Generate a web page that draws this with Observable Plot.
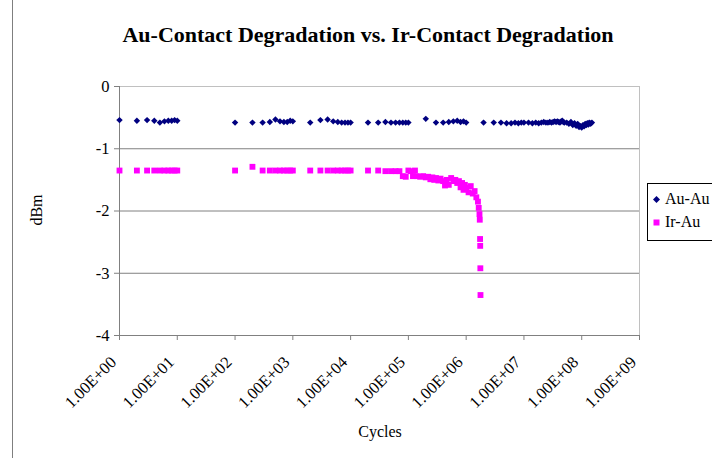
<!DOCTYPE html>
<html>
<head>
<meta charset="utf-8">
<script src="https://cdn.jsdelivr.net/npm/d3@7"></script>
<script src="https://cdn.jsdelivr.net/npm/@observablehq/plot@0.6"></script>
<style>
  html, body { margin: 0; padding: 0; background: #fff; }
  #wrap { position: relative; width: 712px; height: 458px; overflow: hidden; background: #fff;
          font-family: "Liberation Serif", "Times New Roman", serif; color: #000; }
  #wrap > svg { position: absolute; left: 0; top: 0; }
  .abs { position: absolute; white-space: nowrap; }
  #title { left: 0; width: 736px; top: 22px; text-align: center; font-weight: bold; font-size: 22px; }
  #xlab { left: 280px; width: 200px; top: 423px; text-align: center; font-size: 16px; }
  #ylab { left: 37px; top: 210px; font-size: 16px; transform: translate(-50%, -50%) rotate(-90deg); }
  #frameline { left: 12px; top: 0; width: 1px; height: 458px; background: #7f7f7f; }
  #legend { left: 647px; top: 183px; width: 90px; height: 56px; border: 1px solid #000; font-size: 16px; background: #fff; }
  #legend .item { position: absolute; left: 5px; display: flex; align-items: center; }
  #legend .item svg { position: static; margin-right: 5px; }
</style>
</head>
<body>
<div id="wrap">
  <div class="abs" id="frameline"></div>
  <div class="abs" id="title">Au-Contact Degradation vs. Ir-Contact Degradation</div>
  <div class="abs" id="xlab">Cycles</div>
  <div class="abs" id="ylab">dBm</div>
  <div class="abs" id="legend"></div>
</div>
<script>
// ---- data ----
const seriesNames = ["Au-Au", "Ir-Au"];
const seriesColors = ["#000080", "#FF00FF"];

const auCycles = [
  1, 2, 3, 4, 5, 6, 7, 8, 9, 10,
  100, 200, 300, 400, 500, 600, 700, 800, 900, 1000,
  2000, 3000, 4000, 5000, 6000, 7000, 8000, 9000, 10000,
  20000, 30000, 40000, 50000, 60000, 70000, 80000, 90000, 100000,
  200000, 300000, 400000, 500000, 600000, 700000, 800000, 900000, 1000000,
  2e6, 3e6, 4e6, 5e6, 6e6, 7e6, 8e6, 9e6, 1e7,
  1.2e7, 1.4e7, 1.6e7, 1.8e7, 2.0e7, 2.2e7, 2.4e7, 2.6e7, 2.8e7, 3.0e7,
  3.2e7, 3.4e7, 3.6e7, 3.8e7, 4.0e7, 4.2e7, 4.4e7, 4.6e7, 4.8e7, 5.0e7,
  5.5e7, 6.0e7, 6.5e7, 7.0e7, 7.5e7, 8.0e7, 8.5e7, 9.0e7, 9.5e7, 1.0e8,
  1.05e8, 1.1e8, 1.15e8, 1.2e8, 1.25e8, 1.3e8, 1.35e8, 1.4e8, 1.45e8, 1.5e8
];
const auDbm = [
  -0.54, -0.55, -0.54, -0.55, -0.58, -0.56, -0.55, -0.55, -0.54, -0.55,
  -0.58, -0.58, -0.58, -0.57, -0.53, -0.56, -0.57, -0.57, -0.55, -0.56,
  -0.58, -0.54, -0.53, -0.56, -0.57, -0.58, -0.58, -0.58, -0.58,
  -0.58, -0.58, -0.57, -0.58, -0.58, -0.58, -0.58, -0.58, -0.58,
  -0.52, -0.58, -0.58, -0.57, -0.56, -0.55, -0.57, -0.56, -0.58,
  -0.58, -0.58, -0.58, -0.59, -0.59, -0.58, -0.59, -0.58, -0.58,
  -0.58, -0.59, -0.58, -0.59, -0.58, -0.57, -0.58, -0.58, -0.57, -0.58,
  -0.57, -0.56, -0.57, -0.56, -0.57, -0.58, -0.56, -0.55, -0.57, -0.58,
  -0.58, -0.60, -0.57, -0.62, -0.59, -0.63, -0.60, -0.65, -0.64, -0.66,
  -0.62, -0.64, -0.60, -0.62, -0.59, -0.61, -0.58, -0.60, -0.59, -0.58
];

const irCycles = [
  1, 2, 3, 4, 5, 6, 7, 8, 9, 10,
  100, 200, 300, 400, 500, 600, 700, 800, 900, 1000,
  2000, 3000, 4000, 5000, 6000, 7000, 8000, 9000, 10000,
  20000, 30000, 40000, 50000, 60000, 70000, 80000, 90000,
  100000, 110000, 120000, 130000, 140000, 160000, 180000, 200000, 220000, 240000,
  260000, 280000, 300000, 330000, 360000, 400000, 430000, 460000, 500000, 550000,
  600000, 650000, 700000, 750000, 800000, 850000, 900000, 950000, 1000000,
  1100000, 1200000, 1300000, 1400000, 1500000, 1600000, 1650000, 1700000,
  1720000, 1740000, 1750000, 1760000, 1770000
];
const irDbm = [
  -1.35, -1.35, -1.35, -1.35, -1.35, -1.35, -1.35, -1.35, -1.35, -1.35,
  -1.35, -1.29, -1.35, -1.35, -1.35, -1.35, -1.35, -1.35, -1.35, -1.35,
  -1.35, -1.35, -1.35, -1.35, -1.35, -1.35, -1.35, -1.35, -1.35,
  -1.35, -1.35, -1.36, -1.36, -1.36, -1.36, -1.44, -1.45,
  -1.35, -1.36, -1.44, -1.35, -1.44, -1.45, -1.44, -1.46, -1.45, -1.49,
  -1.46, -1.50, -1.47, -1.51, -1.48, -1.52, -1.59, -1.50, -1.58, -1.47,
  -1.52, -1.50, -1.55, -1.52, -1.62, -1.55, -1.66, -1.58, -1.63,
  -1.70, -1.60, -1.72, -1.68, -1.78, -1.85, -1.95, -2.05,
  -2.14, -2.45, -2.56, -2.92, -3.35
];

const xTicks = [1, 10, 100, 1000, 1e4, 1e5, 1e6, 1e7, 1e8, 1e9];
const xTickLabels = ["1.00E+00", "1.00E+01", "1.00E+02", "1.00E+03", "1.00E+04",
                     "1.00E+05", "1.00E+06", "1.00E+07", "1.00E+08", "1.00E+09"];
const yTicks = [0, -1, -2, -3, -4];
const yGrid = [-1, -2, -3];

// ---- tables ----
const au = auCycles.map((c, i) => ({cycles: c, dbm: auDbm[i]}));
const ir = irCycles.map((c, i) => ({cycles: c, dbm: irDbm[i]}));

const chart = Plot.plot({
  width: 712,
  height: 458,
  marginLeft: 119,
  marginRight: 73,
  marginTop: 86,
  marginBottom: 123,
  style: {fontFamily: "'Liberation Serif', 'Times New Roman', serif", fontSize: "16px", color: "#000", background: "transparent"},
  x: {type: "log", domain: [1, 1e9]},
  y: {domain: [-4, 0]},
  marks: [
    Plot.ruleY([0], {stroke: "#c0c0c0", strokeOpacity: 1}),
    Plot.ruleX([1e9], {stroke: "#c0c0c0", strokeOpacity: 1}),
    Plot.ruleY(yGrid, {stroke: "#808080", strokeOpacity: 1}),
    Plot.ruleX([1], {stroke: "#808080", strokeOpacity: 1}),
    Plot.ruleY([-4], {stroke: "#808080", strokeOpacity: 1}),
    // tick marks only
    Plot.axisX({ticks: xTicks, tickFormat: () => "", tickSize: 5,
                stroke: "#808080", strokeOpacity: 1, label: null}),
    // rotated tick labels only
    Plot.axisX({ticks: xTicks, tickFormat: d => xTickLabels[xTicks.indexOf(d)], tickRotate: -45,
                tickSize: 0, tickPadding: 24, dx: -6, fontSize: 16.5, label: null, fill: "#000"}),
    Plot.axisY({ticks: yTicks, tickFormat: d => String(d).replace("−", "-"), tickSize: 5, tickPadding: 5,
                fontSize: 16.5, stroke: "#808080", strokeOpacity: 1, label: null, fill: "#000"}),
    Plot.dot(au, {x: "cycles", y: "dbm", symbol: "diamond2", fill: seriesColors[0], r: 2.9, stroke: null}),
    Plot.dot(ir, {x: "cycles", y: "dbm", symbol: "square", fill: seriesColors[1], r: 3.3, stroke: null})
  ]
});
document.getElementById("wrap").prepend(chart);

// ---- legend ----
const legend = document.getElementById("legend");
const symbols = ["M3.5 0 L7 3.5 L3.5 7 L0 3.5 Z", "M0.5 0.5 H6.5 V6.5 H0.5 Z"];
seriesNames.forEach((name, i) => {
  const it = document.createElement("div");
  it.className = "item";
  it.style.top = (i === 0 ? 6 : 29) + "px";
  it.innerHTML = `<svg width="7" height="7"><path d="${symbols[i]}" fill="${seriesColors[i]}"/></svg><span>${name}</span>`;
  legend.appendChild(it);
});
</script>
</body>
</html>
